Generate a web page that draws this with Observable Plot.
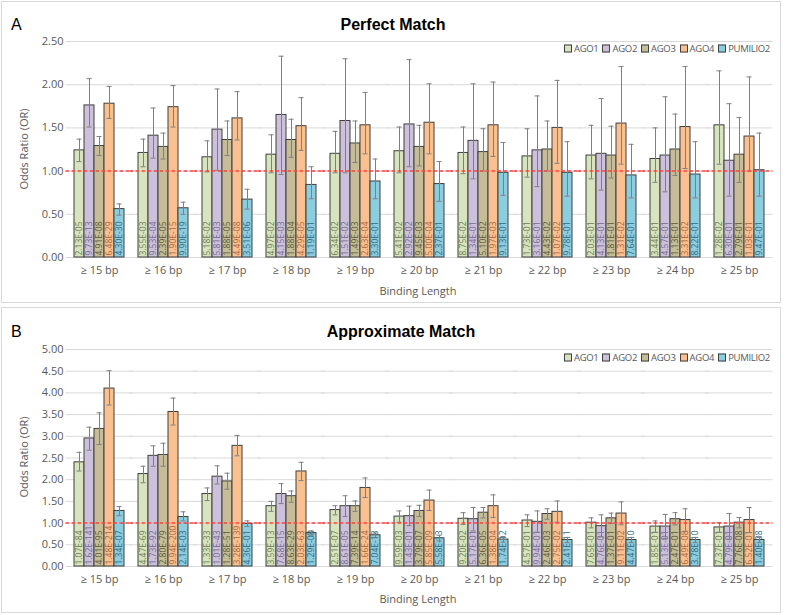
<!DOCTYPE html>
<html>
<head>
<meta charset="utf-8">
<script src="https://cdn.jsdelivr.net/npm/d3@7"></script>
<script src="https://cdn.jsdelivr.net/npm/@observablehq/plot@0.6"></script>
<style>
  body { margin: 0; background: #fff; }
  #root { position: relative; width: 787px; height: 615px; overflow: hidden; font-family: "Open Sans", sans-serif; }
  .panel { position: absolute; border: 1px solid #d9d9d9; box-sizing: border-box; }
  .abs { position: absolute; white-space: nowrap; }
  .letter { font-family: "Liberation Sans", Arial, sans-serif; font-size: 16px; color: #000; transform: translate(0, -50%); }
  .title { font-family: "Liberation Sans", Arial, sans-serif; font-size: 16px; font-weight: bold; color: #000; transform: translate(-50%, -50%); }
  .axtitle { font-size: 11px; color: #595959; transform: translate(-50%, -50%); }
  .ytitle { font-size: 11px; color: #595959; transform: translate(-50%, -50%) rotate(-90deg); }
  .legend { display: flex; gap: 4px; font-size: 9.5px; letter-spacing: -0.3px; color: #595959; transform: translate(0, -50%); align-items: center; }
  .legend .item { display: flex; align-items: center; gap: 2px; }
  .legend .sw { width: 6px; height: 6px; border: 1px solid #404040; }
  svg { position: absolute; left: 0; }
</style>
</head>
<body>
<div id="root"></div>
<script>
// ---------- data ----------
const lengths = ["≥ 15 bp","≥ 16 bp","≥ 17 bp","≥ 18 bp","≥ 19 bp","≥ 20 bp","≥ 21 bp","≥ 22 bp","≥ 23 bp","≥ 24 bp","≥ 25 bp"];
const series = ["AGO1","AGO2","AGO3","AGO4","PUMILIO2"];
const perfectTicks = [0, 0.5, 1, 1.5, 2, 2.5];
const approxTicks = [0, 0.5, 1, 1.5, 2, 2.5, 3, 3.5, 4, 4.5, 5];

// Perfect match (rows = series, cols = lengths)
const perfectOR = [
  [1.24,1.21,1.16,1.19,1.20,1.23,1.21,1.17,1.18,1.14,1.53],
  [1.76,1.41,1.48,1.65,1.58,1.54,1.35,1.24,1.20,1.18,1.12],
  [1.29,1.28,1.36,1.36,1.32,1.28,1.22,1.25,1.18,1.25,1.19],
  [1.78,1.74,1.61,1.52,1.53,1.56,1.53,1.50,1.55,1.51,1.40],
  [0.56,0.57,0.67,0.84,0.88,0.85,0.98,0.98,0.95,0.96,1.01]
];
const perfectLo = [
  [1.11,1.05,0.99,0.98,0.98,0.98,0.97,0.93,0.91,0.87,1.08],
  [1.51,1.15,1.01,0.96,0.98,1.05,0.91,0.82,0.78,0.76,0.71],
  [1.18,1.14,1.18,1.16,1.10,1.06,1.00,1.00,0.92,0.95,0.87],
  [1.61,1.51,1.36,1.24,1.20,1.20,1.17,1.09,1.08,1.03,1.00],
  [0.49,0.50,0.56,0.68,0.68,0.65,0.72,0.71,0.69,0.69,0.71]
];
const perfectHi = [
  [1.37,1.37,1.35,1.42,1.46,1.51,1.51,1.49,1.53,1.50,2.16],
  [2.07,1.73,1.95,2.33,2.30,2.29,2.01,1.87,1.84,1.86,1.78],
  [1.40,1.44,1.58,1.60,1.58,1.53,1.49,1.58,1.52,1.66,1.62],
  [1.98,1.99,1.92,1.85,1.91,2.01,2.03,2.05,2.21,2.21,2.09],
  [0.62,0.64,0.79,1.05,1.14,1.11,1.33,1.34,1.31,1.34,1.44]
];
const perfectP = [
  ["2.13E-05","3.55E-03","5.18E-02","4.97E-02","6.34E-02","5.41E-02","8.75E-02","1.73E-01","2.03E-01","3.44E-01","1.28E-02"],
  ["9.73E-13","9.53E-04","5.81E-03","4.15E-03","1.51E-02","2.92E-02","1.34E-01","3.16E-01","4.13E-01","4.57E-01","6.30E-01"],
  ["4.91E-08","2.39E-05","1.88E-05","1.88E-04","1.49E-03","9.45E-03","5.10E-02","4.43E-02","1.81E-01","1.13E-01","2.79E-01"],
  ["6.48E-29","1.90E-15","4.49E-08","4.29E-05","2.63E-04","5.00E-04","1.97E-03","1.07E-02","1.31E-02","3.31E-02","1.03E-01"],
  ["4.30E-30","9.90E-19","3.51E-06","1.19E-01","3.30E-01","2.37E-01","9.13E-01","9.78E-01","7.64E-01","8.22E-01","9.47E-01"]
];

// Approximate match
const approxOR = [
  [2.40,2.13,1.67,1.39,1.30,1.15,1.10,1.06,1.01,0.92,0.90],
  [2.95,2.55,2.07,1.67,1.39,1.16,1.09,1.03,0.93,0.92,0.92],
  [3.17,2.57,1.96,1.62,1.39,1.28,1.24,1.21,1.11,1.09,1.01],
  [4.10,3.56,2.78,2.19,1.81,1.52,1.39,1.26,1.22,1.07,1.07],
  [1.28,1.14,0.98,0.77,0.72,0.65,0.62,0.61,0.61,0.61,0.61]
];
const approxLo = [
  [2.20,1.93,1.52,1.27,1.19,1.02,0.97,0.92,0.89,0.79,0.79],
  [2.68,2.31,1.90,1.45,1.15,0.94,0.82,0.79,0.68,0.65,0.63],
  [2.81,2.31,1.78,1.48,1.27,1.15,1.12,1.09,0.99,0.96,0.89],
  [3.72,3.26,2.55,1.98,1.59,1.29,1.13,1.02,0.96,0.81,0.78],
  [1.17,1.05,0.92,0.72,0.66,0.59,0.56,0.55,0.55,0.55,0.55]
];
const approxHi = [
  [2.63,2.31,1.81,1.50,1.40,1.28,1.24,1.19,1.12,1.05,1.01],
  [3.21,2.78,2.32,1.91,1.63,1.39,1.36,1.28,1.19,1.20,1.22],
  [3.54,2.84,2.15,1.74,1.51,1.41,1.36,1.33,1.23,1.24,1.13],
  [4.51,3.88,3.02,2.40,2.04,1.76,1.65,1.51,1.49,1.33,1.36],
  [1.38,1.26,1.05,0.82,0.77,0.72,0.69,0.67,0.67,0.67,0.67]
];
const approxP = [
  ["1.07E-84","4.47E-69","1.33E-33","3.59E-13","2.51E-07","9.59E-03","9.20E-02","4.57E-01","7.65E-01","1.85E-01","7.37E-01"],
  ["1.62E-141","1.73E-92","1.01E-43","7.68E-15","8.61E-05","1.43E-01","5.17E-01","9.94E-01","4.76E-01","5.13E-01","4.79E-01"],
  ["4.01E-95","2.80E-79","1.28E-51","8.63E-29","7.39E-14","3.79E-07","6.36E-05","2.46E-03","1.37E-01","2.47E-01","7.76E-08"],
  ["1.48E-214","9.94E-200","3.28E-139","2.03E-63","1.66E-24","5.85E-09","1.38E-04","2.75E-02","9.11E-02","6.49E-08","6.52E-01"],
  ["1.34E-07","2.14E-03","4.36E-01","1.29E-08","7.04E-13","5.58E-13","1.74E-12","2.41E-11","4.47E-10","3.78E-10","1.40E-08"]
];

// ---------- styles ----------
const fillColors = ["#d7e4bd","#ccc1da","#c4bd97","#fac090","#8ccde0"];
const textColors = ["#6d7d52","#75688f","#5e5838","#a8683a","#2e6c7e"];
const PAD_IN = 0.15, PAD_OUT = 0.1;

function buildRows(orA, loA, hiA, pA) {
  const rows = [];
  series.forEach((s, j) => lengths.forEach((len, i) => {
    rows.push({len, s, j, or: orA[j][i], lo: loA[j][i], hi: hiA[j][i], p: pA[j][i]});
  }));
  return rows;
}

function makePlot(rows, ticks, height, mt, mb) {
  const W = 787, ML = 63, MR = 12.5;
  const step = (W - ML - MR) / (lengths.length - PAD_IN + 2 * PAD_OUT);
  const ext = -PAD_OUT * step; // extend per-facet rules to span gaps between groups
  const marks = [
    Plot.ruleY(ticks, {stroke: "#d9d9d9", strokeWidth: 1, insetLeft: ext, insetRight: ext}),
    Plot.barY(rows, {fx: "len", x: "s", y: "or", fill: "s", stroke: "#3f3f3f", strokeWidth: 1})
  ];
  series.forEach((s, j) => {
    marks.push(Plot.text(rows.filter(d => d.j === j), {
      fx: "len", x: "s", y: 0, text: "p", rotate: -90, textAnchor: "start",
      lineAnchor: "middle", dy: -2, fontSize: 8.5, fill: textColors[j]
    }));
  });
  marks.push(
    Plot.ruleX(rows, {fx: "len", x: "s", y1: "lo", y2: "hi", stroke: "#7f7f7f", strokeWidth: 1}),
    Plot.tickY(rows, {fx: "len", x: "s", y: "lo", stroke: "#7f7f7f", strokeWidth: 1, insetLeft: 2.5, insetRight: 2.5}),
    Plot.tickY(rows, {fx: "len", x: "s", y: "hi", stroke: "#7f7f7f", strokeWidth: 1, insetLeft: 2.5, insetRight: 2.5}),
    Plot.ruleY([1], {stroke: "#ff4040", strokeWidth: 1.5, strokeDasharray: "3.5,2.5", insetLeft: ext, insetRight: ext})
  );
  return Plot.plot({
    width: W, height,
    marginLeft: ML, marginRight: MR, marginTop: mt, marginBottom: mb,
    style: {background: "transparent", fontFamily: "Open Sans", fontSize: "11px", color: "#595959"},
    y: {domain: [0, ticks[ticks.length - 1]], ticks, tickFormat: d3.format(".2f"), tickSize: 0, tickPadding: 9, label: null},
    x: {domain: series, padding: 0, axis: null},
    fx: {domain: lengths, paddingInner: PAD_IN, paddingOuter: PAD_OUT, label: null, tickSize: 0, tickPadding: 9},
    color: {domain: series, range: fillColors},
    marks
  });
}

const root = document.getElementById("root");
function addDiv(cls, text, x, y) {
  const d = document.createElement("div");
  d.className = "abs " + cls;
  d.textContent = text;
  d.style.left = x + "px";
  d.style.top = y + "px";
  root.appendChild(d);
  return d;
}
function addLegend(rightX, y) {
  const lg = document.createElement("div");
  lg.className = "abs legend";
  lg.style.right = (787 - rightX) + "px";
  lg.style.top = y + "px";
  series.forEach((s, j) => {
    const it = document.createElement("div");
    it.className = "item";
    const sw = document.createElement("div");
    sw.className = "sw";
    sw.style.background = fillColors[j];
    const t = document.createElement("span");
    t.textContent = s;
    it.appendChild(sw); it.appendChild(t);
    lg.appendChild(it);
  });
  root.appendChild(lg);
}

// Panel frames
const pA = document.createElement("div");
pA.className = "panel";
Object.assign(pA.style, {left: "1px", top: "1px", width: "780px", height: "302px"});
root.appendChild(pA);
const pB = document.createElement("div");
pB.className = "panel";
Object.assign(pB.style, {left: "1px", top: "307px", width: "780px", height: "306px"});
root.appendChild(pB);

// Panel A
const svgA = makePlot(buildRows(perfectOR, perfectLo, perfectHi, perfectP), perfectTicks, 300, 41, 43);
svgA.style.top = "0px";
root.appendChild(svgA);
addDiv("letter", "A", 11, 25);
addDiv("title", "Perfect Match", 393, 25);
addDiv("axtitle", "Binding Length", 418, 290);
addDiv("ytitle", "Odds Ratio (OR)", 23, 149);
addLegend(770, 48);

// Panel B
const svgB = makePlot(buildRows(approxOR, approxLo, approxHi, approxP), approxTicks, 305, 44, 44);
svgB.style.top = "305px";
root.appendChild(svgB);
addDiv("letter", "B", 11, 332);
addDiv("title", "Approximate Match", 401, 332);
addDiv("axtitle", "Binding Length", 418, 598);
addDiv("ytitle", "Odds Ratio (OR)", 23, 457);
addLegend(770, 357);
</script>
</body>
</html>
